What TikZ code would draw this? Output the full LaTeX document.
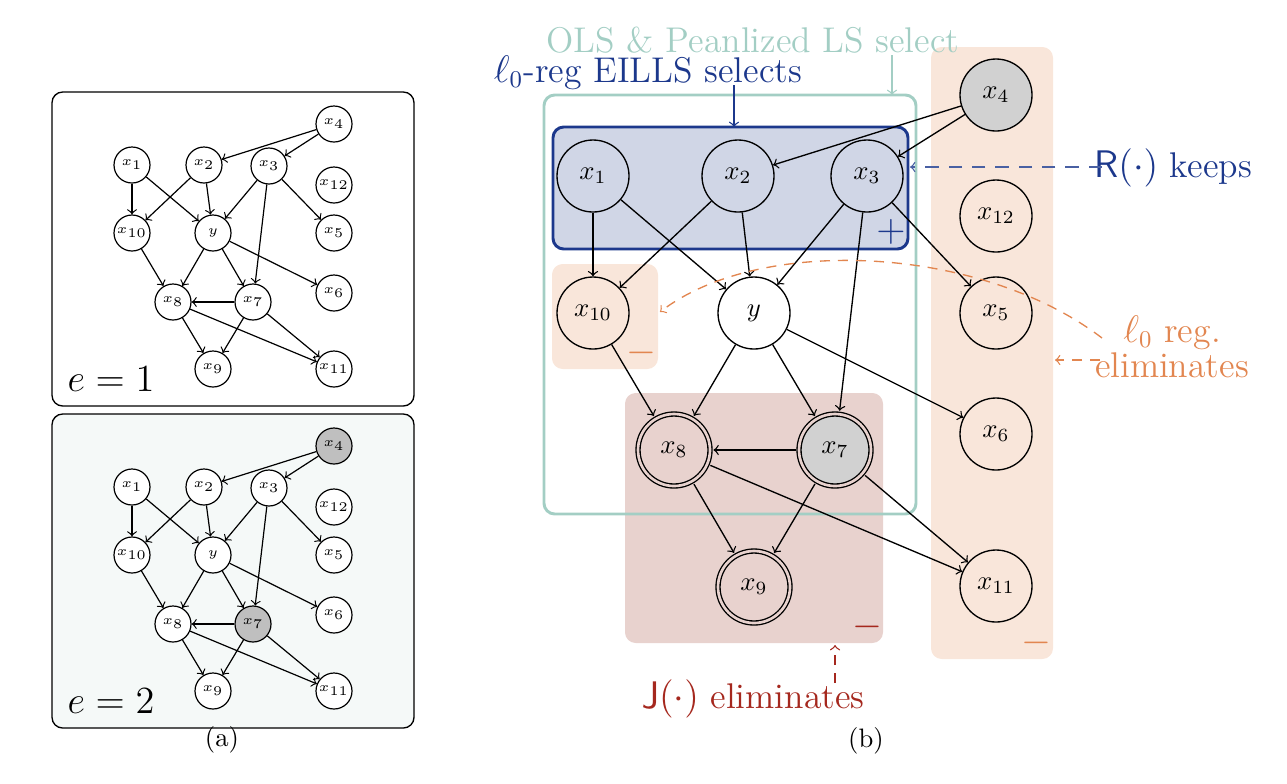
\documentclass[tikz,border=0pt]{standalone}
\usepackage{tikz}
\definecolor{selblue}{RGB}{28,56,140}
\definecolor{boxblue}{RGB}{208,214,230}
\definecolor{olsteal}{RGB}{163,206,196}
\definecolor{elimpeach}{RGB}{249,230,218}
\definecolor{elimorange}{RGB}{226,134,80}
\definecolor{jbox}{RGB}{232,210,206}
\definecolor{jred}{RGB}{165,40,30}
\definecolor{envbg}{RGB}{245,249,248}
\tikzset{
	var/.style={circle, draw, line width=0.5pt, minimum size=27pt, inner sep=0pt},
	invvar/.style={var, double=jbox, double distance=1pt, outer sep=1.3pt},
	svar/.style={circle, draw, line width=0.45pt, minimum size=13.5pt, inner sep=0pt, fill=white, font=\tiny},
	edge/.style={->, line width=0.5pt},
	sedge/.style={->, line width=0.45pt},
	note/.style={font=\fontsize{13.4}{15}\selectfont},
	sign/.style={font=\Large}
}

\begin{document}
\begin{tikzpicture}[x=0.375pt, y=-0.375pt]
		%%%%% START %%%%%
		\useasboundingbox (0,0) rectangle (1287,783);
		
		% (a) two environments
		\draw[line width=0.5pt, rounded corners=4pt, fill=white] (52,92) rectangle (414,406);
		\draw[line width=0.5pt, rounded corners=4pt, fill=envbg] (52,414) rectangle (414,728);
		
		\foreach \e/\dy/\gc in {1/0/white, 2/322/black!25} {
			\begin{scope}[shift={(0,\dy)}]
				\node[svar, fill=\gc] (a\e-x4) at (334,124) {$x_4$};
				\node[svar] (a\e-x1) at (132,165) {$x_1$};
				\node[svar] (a\e-x2) at (204,165) {$x_2$};
				\node[svar] (a\e-x3) at (269,166) {$x_3$};
				\node[svar] (a\e-x12) at (334,185) {$x_{12}$};
				\node[svar] (a\e-x10) at (132,233) {$x_{10}$};
				\node[svar] (a\e-y) at (213,233) {$y$};
				\node[svar] (a\e-x5) at (334,233) {$x_5$};
				\node[svar] (a\e-x6) at (334,293) {$x_6$};
				\node[svar] (a\e-x8) at (173,302) {$x_8$};
				\node[svar, fill=\gc] (a\e-x7) at (253,302) {$x_7$};
				\node[svar] (a\e-x9) at (213,369) {$x_9$};
				\node[svar] (a\e-x11) at (334,369) {$x_{11}$};
				\node[note, anchor=base] (a\e-lab) at (111,391) {$e=\e$};
			\end{scope}
			\foreach \u/\v in {x4/x2, x4/x3, x1/x10, x1/y, x2/x10, x2/y, x3/y, x3/x7, x3/x5, x10/x8, y/x8, y/x7, y/x6, x7/x8, x8/x9, x7/x9, x8/x11, x7/x11}
				\draw[sedge] (a\e-\u) -- (a\e-\v);
		}
		\node[anchor=base] (capa) at (222,746) {(a)};
		
		% (b) selection boxes
		\fill[elimpeach, rounded corners=4pt] (931,47) rectangle (1053,659);
		\fill[elimpeach, rounded corners=4pt] (552,264) rectangle (658,369);
		\fill[jbox, rounded corners=4pt] (625,393) rectangle (883,643);
		\draw[olsteal, line width=1.1pt, rounded corners=4pt] (544,95) rectangle (916,514);
		\draw[selblue, fill=boxblue, line width=1.1pt, rounded corners=4pt] (553,127) rectangle (908,249);
		
		\node[var, fill=black!18] (x4) at (996,95) {$x_4$};
		\node[var] (x1) at (593,176) {$x_1$};
		\node[var] (x2) at (738,176) {$x_2$};
		\node[var] (x3) at (867,176) {$x_3$};
		\node[var] (x12) at (996,216) {$x_{12}$};
		\node[var] (x10) at (593,313) {$x_{10}$};
		\node[var, fill=white] (y) at (754,313) {$y$};
		\node[var] (x5) at (996,313) {$x_5$};
		\node[var] (x6) at (996,434) {$x_6$};
		\node[invvar] (x8) at (674,450) {$x_8$};
		\node[invvar, fill=black!18] (x7) at (835,450) {$x_7$};
		\node[invvar] (x9) at (754,587) {$x_9$};
		\node[var] (x11) at (996,586) {$x_{11}$};
		
		\foreach \u/\v in {x4/x2, x4/x3, x1/x10, x1/y, x2/x10, x2/y, x3/y, x3/x7, x3/x5, x10/x8, y/x8, y/x7, y/x6, x7/x8, x8/x9, x7/x9, x8/x11, x7/x11}
			\draw[edge] (\u) -- (\v);
		
		\node[sign, text=selblue] (plus) at (891,232) {$+$};
		\node[sign, text=elimorange] (minusa) at (641,353) {$-$};
		\node[sign, text=jred] (minusb) at (867,627) {$-$};
		\node[sign, text=elimorange] (minusc) at (1036,643) {$-$};
		
		% labels and pointers
		\node[note, text=olsteal, anchor=base] (ols) at (753,52) {OLS \& Peanlized LS select};
		\node[note, text=selblue, anchor=base] (eills) at (648,82) {$\ell_0$-reg EILLS selects};
		\node[note, text=selblue, anchor=base] (keeps) at (1173,177) {$\mathsf{R}(\cdot)$ keeps};
		\node[note, text=elimorange, anchor=base, inner sep=0pt] (l0reg) at (1172,342) {$\ell_0$ reg.};
		\node[note, text=elimorange, anchor=base, inner sep=0pt] (l0elim) at (1172,377) {eliminates};
		\node[note, text=jred, anchor=base] (jelim) at (753,708) {$\mathsf{J}(\cdot)$ eliminates};
		\node[anchor=base] (capb) at (866,747) {(b)};
		
		\coordinate (olsfrom) at (892,55);
		\coordinate (olsto) at (892,95);
		\coordinate (eillsfrom) at (734,85);
		\coordinate (eillsto) at (734,127);
		\coordinate (keepfrom) at (1102,167);
		\coordinate (keepto) at (910,167);
		\coordinate (regfrom) at (1102,338);
		\coordinate (regto) at (660,312);
		\coordinate (elimfrom) at (1100,360);
		\coordinate (elimto) at (1055,360);
		\coordinate (jfrom) at (835,683);
		\coordinate (jto) at (835,645);
		
		\draw[->, olsteal, line width=0.5pt] (olsfrom) -- (olsto);
		\draw[->, selblue, line width=0.5pt] (eillsfrom) -- (eillsto);
		\draw[->, selblue!80, line width=0.5pt, dash pattern=on 5pt off 3.75pt] (keepfrom) -- (keepto);
		\draw[->, elimorange, line width=0.5pt, dash pattern=on 3.75pt off 3pt] (regfrom) .. controls (980,245) and (760,235) .. (regto);
		\draw[->, elimorange, line width=0.5pt, dash pattern=on 3.75pt off 3pt] (elimfrom) -- (elimto);
		\draw[->, jred, line width=0.5pt, dash pattern=on 3.75pt off 3pt] (jfrom) -- (jto);
		%%%%% END %%%%%
\end{tikzpicture}
\end{document}
